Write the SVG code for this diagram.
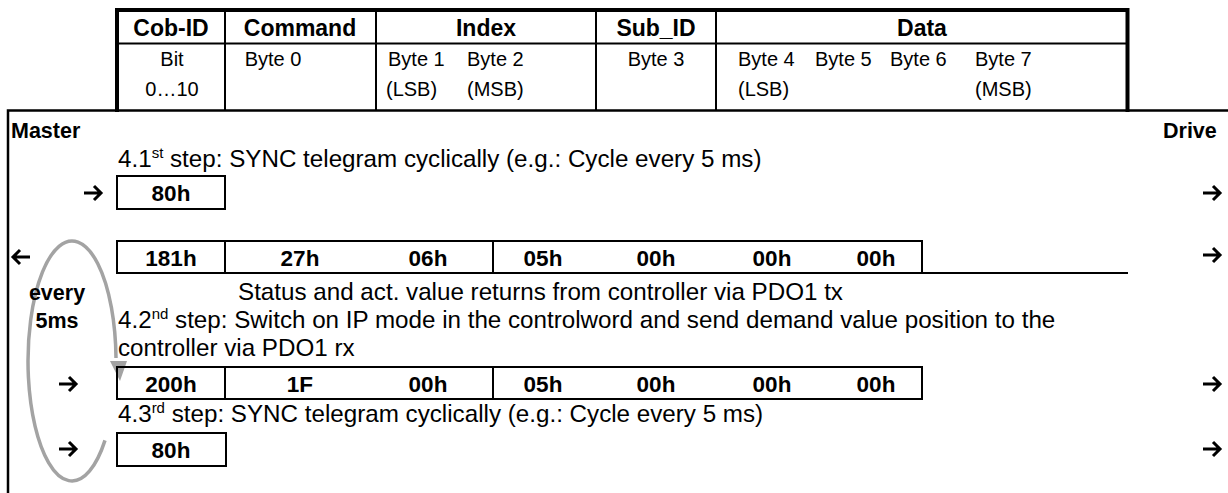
<svg xmlns="http://www.w3.org/2000/svg" width="1228" height="493" viewBox="0 0 1228 493">
<style>
text{font-family:"Liberation Sans",Arial,sans-serif;fill:#000}
.h{font-size:23px;font-weight:bold;text-anchor:middle}
.s{font-size:20px}
.m{text-anchor:middle}
.t{font-size:24.2px}
.sup{font-size:15px}
.b{font-size:22.5px;font-weight:bold;text-anchor:middle}
.lbl{font-size:21.5px;font-weight:bold}
.thick{stroke:#000;stroke-width:4;fill:none}
.thin{stroke:#000;stroke-width:2;fill:none}
.cyc{stroke:#a3a3a3;stroke-width:3.5;fill:none}
.arr{stroke:#000;stroke-width:3;fill:none;stroke-linejoin:miter}
</style>
<rect width="1228" height="493" fill="#fff"/>

<g id="header">
  <path class="thick" d="M117,112 V10 H1127.5 V112"/>
  <path class="thin" d="M117,43.5 H1127.5 M225,10 V110 M376,10 V110 M596,10 V110 M716,10 V110"/>
  <text class="h" x="171" y="36">Cob-ID</text>
  <text class="h" x="300" y="36">Command</text>
  <text class="h" x="486" y="36">Index</text>
  <text class="h" x="656" y="36">Sub_ID</text>
  <text class="h" x="922" y="36">Data</text>
  <text class="s m" x="172" y="66">Bit</text>
  <text class="s m" x="273" y="66">Byte 0</text>
  <text class="s" x="388" y="66">Byte 1</text>
  <text class="s" x="467" y="66">Byte 2</text>
  <text class="s m" x="656" y="66">Byte 3</text>
  <text class="s" x="738" y="66">Byte 4</text>
  <text class="s" x="815" y="66">Byte 5</text>
  <text class="s" x="890" y="66">Byte 6</text>
  <text class="s" x="975" y="66">Byte 7</text>
  <text class="s m" x="172" y="96">0…10</text>
  <text class="s" x="386" y="96">(LSB)</text>
  <text class="s" x="467" y="96">(MSB)</text>
  <text class="s" x="738" y="96">(LSB)</text>
  <text class="s" x="975" y="96">(MSB)</text>
</g>

<g id="frame">
  <path d="M8,493 V110.5 H1228" stroke="#000" stroke-width="2.5" fill="none"/>
  <text class="lbl" x="11" y="138">Master</text>
  <text class="lbl" x="1163" y="138">Drive</text>
</g>

<g id="cycle">
  <path class="cyc" d="M105,440.4 A44 120 0 1 1 116,358"/>
  <polygon points="110,361 127,361 120,381" fill="#a3a3a3"/>
  <text class="lbl m" x="57" y="300">every</text>
  <text class="lbl m" x="57" y="328">5ms</text>
</g>

<g id="step1">
  <text class="t" x="118" y="167">4.1<tspan class="sup" dy="-9">st</tspan><tspan dy="9"> step: SYNC telegram cyclically (e.g.: Cycle every 5 ms)</tspan></text>
  <rect class="thin" x="117" y="176" width="108" height="33"/>
  <text class="b" x="171" y="201">80h</text>
</g>

<g id="pdo1tx">
  <path class="thin" d="M117,241 H922 M117,273 H1128 M117,240 V274 M225,240 V274 M493,240 V274 M922,240 V274"/>
  <text class="b" x="171" y="266">181h</text>
  <text class="b" x="300" y="266">27h</text>
  <text class="b" x="428" y="266">06h</text>
  <text class="b" x="543" y="266">05h</text>
  <text class="b" x="656" y="266">00h</text>
  <text class="b" x="772" y="266">00h</text>
  <text class="b" x="876" y="266">00h</text>
  <text class="t" x="238" y="300">Status and act. value returns from controller via PDO1 tx</text>
</g>

<g id="step2">
  <text class="t" x="118" y="328">4.2<tspan class="sup" dy="-9">nd</tspan><tspan dy="9"> step: Switch on IP mode in the controlword and send demand value position to the</tspan></text>
  <text class="t" x="118" y="356">controller via PDO1 rx</text>
  <rect class="thin" x="117" y="367" width="805" height="32"/>
  <path class="thin" d="M225,367 V399 M493,367 V399"/>
  <text class="b" x="171" y="392">200h</text>
  <text class="b" x="300" y="392">1F</text>
  <text class="b" x="428" y="392">00h</text>
  <text class="b" x="543" y="392">05h</text>
  <text class="b" x="656" y="392">00h</text>
  <text class="b" x="772" y="392">00h</text>
  <text class="b" x="876" y="392">00h</text>
</g>

<g id="step3">
  <text class="t" x="118" y="422">4.3<tspan class="sup" dy="-9">rd</tspan><tspan dy="9"> step: SYNC telegram cyclically (e.g.: Cycle every 5 ms)</tspan></text>
  <rect class="thin" x="117" y="433" width="109" height="33"/>
  <text class="b" x="171" y="458">80h</text>
</g>

<g id="connectors">
  <path class="arr" d="M84,193 H101 M94,186 L101,193 L94,200"/>
  <path class="arr" d="M1203,193 H1220 M1213,186 L1220,193 L1213,200"/>
  <path class="arr" d="M30,257 H13 M20,250 L13,257 L20,264"/>
  <path class="arr" d="M1203,255 H1220 M1213,248 L1220,255 L1213,262"/>
  <path class="arr" d="M59,384 H76 M69,377 L76,384 L69,391"/>
  <path class="arr" d="M1203,384 H1220 M1213,377 L1220,384 L1213,391"/>
  <path class="arr" d="M59,449 H76 M69,442 L76,449 L69,456"/>
  <path class="arr" d="M1203,449 H1220 M1213,442 L1220,449 L1213,456"/>
</g>
</svg>
